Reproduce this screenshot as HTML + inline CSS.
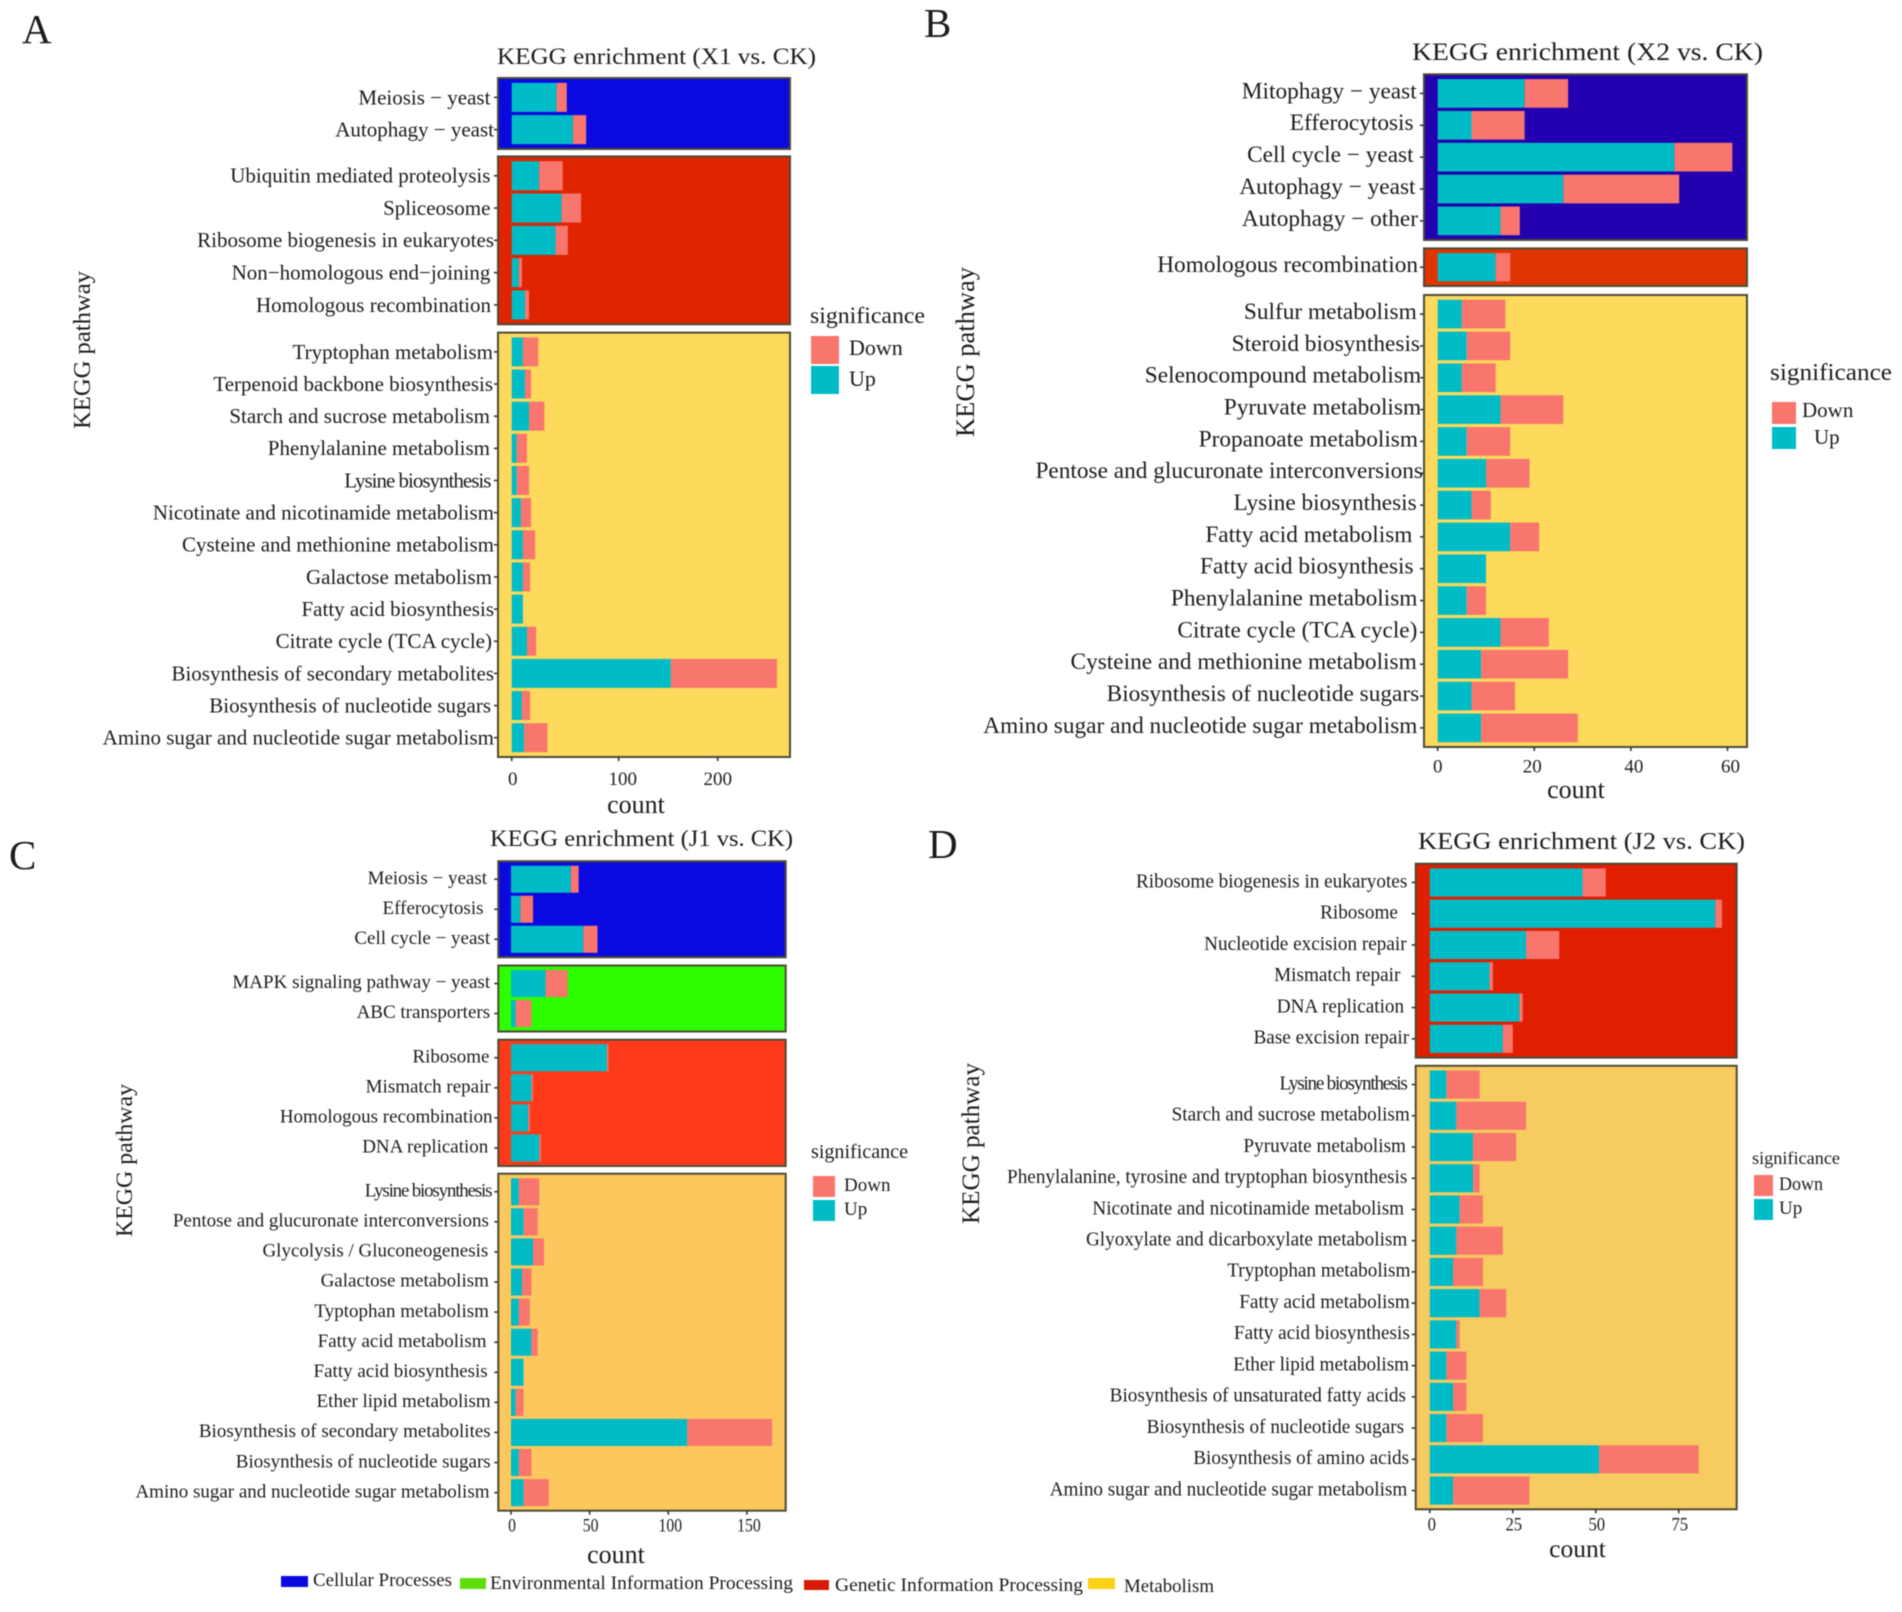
<!DOCTYPE html>
<html lang="en">
<head>
<meta charset="utf-8">
<title>KEGG enrichment panels</title>
<style>
html,body{margin:0;padding:0;background:#fff;}
svg{display:block;filter:blur(0.45px);}
text{font-family:"Liberation Serif",serif;fill:#1c1c1c;}
</style>
</head>
<body>
<svg id="figure" xmlns="http://www.w3.org/2000/svg" width="1902" height="1612" viewBox="0 0 1902 1612">
  <rect x="0" y="0" width="1902" height="1612" fill="#ffffff"/>

  <text x="22" y="43" font-size="41">A</text>
  <text x="924" y="37" font-size="41">B</text>
  <text x="9" y="869" font-size="41">C</text>
  <text x="928" y="858" font-size="41">D</text>

  <text x="497" y="64" font-size="23.5" textLength="319" lengthAdjust="spacingAndGlyphs">KEGG enrichment (X1 vs. CK)</text>
  <text x="1412" y="60" font-size="25" textLength="351" lengthAdjust="spacingAndGlyphs">KEGG enrichment (X2 vs. CK)</text>
  <text x="490" y="846" font-size="23" textLength="303" lengthAdjust="spacingAndGlyphs">KEGG enrichment (J1 vs. CK)</text>
  <text x="1418" y="849" font-size="24" textLength="327" lengthAdjust="spacingAndGlyphs">KEGG enrichment (J2 vs. CK)</text>

  <text transform="translate(90,429) rotate(-90)" font-size="24" textLength="158" lengthAdjust="spacingAndGlyphs">KEGG pathway</text>
  <text transform="translate(974,437) rotate(-90)" font-size="26" textLength="170" lengthAdjust="spacingAndGlyphs">KEGG pathway</text>
  <text transform="translate(132,1237) rotate(-90)" font-size="23" textLength="153" lengthAdjust="spacingAndGlyphs">KEGG pathway</text>
  <text transform="translate(979,1224) rotate(-90)" font-size="25" textLength="161" lengthAdjust="spacingAndGlyphs">KEGG pathway</text>

  <text x="636" y="813" font-size="26" text-anchor="middle">count</text>
  <text x="1576" y="798" font-size="26" text-anchor="middle">count</text>
  <text x="616" y="1563" font-size="26" text-anchor="middle">count</text>
  <text x="1577.5" y="1557" font-size="25.5" text-anchor="middle">count</text>

  <g>
    <text x="810" y="323" font-size="23" textLength="115" lengthAdjust="spacingAndGlyphs">significance</text>
    <rect x="811" y="336" width="28" height="28" fill="#f8766d"/>
    <rect x="811" y="366" width="28" height="28" fill="#00bcc6"/>
    <text x="849" y="355" font-size="22">Down</text>
    <text x="849" y="386" font-size="22">Up</text>
  </g>
  <g>
    <text x="1770" y="380" font-size="24" textLength="122" lengthAdjust="spacingAndGlyphs">significance</text>
    <rect x="1772" y="402" width="24" height="22" fill="#f8766d"/>
    <rect x="1772" y="427" width="24" height="22" fill="#00bcc6"/>
    <text x="1802" y="417" font-size="21">Down</text>
    <text x="1814" y="444" font-size="21">Up</text>
  </g>
  <g>
    <text x="811" y="1158" font-size="20" textLength="97" lengthAdjust="spacingAndGlyphs">significance</text>
    <rect x="813" y="1176" width="22" height="21" fill="#f8766d"/>
    <rect x="813" y="1200" width="22" height="21" fill="#00bcc6"/>
    <text x="844" y="1191" font-size="19">Down</text>
    <text x="844" y="1215" font-size="19">Up</text>
  </g>
  <g>
    <text x="1752" y="1164" font-size="18" textLength="88" lengthAdjust="spacingAndGlyphs">significance</text>
    <rect x="1754" y="1175" width="19" height="21" fill="#f8766d"/>
    <rect x="1754" y="1199" width="19" height="21" fill="#00bcc6"/>
    <text x="1779" y="1190" font-size="19" textLength="44" lengthAdjust="spacingAndGlyphs">Down</text>
    <text x="1779" y="1214" font-size="19">Up</text>
  </g>

  <g>
    <rect x="281" y="1576" width="27" height="11" fill="#0a0ae0"/>
    <text x="313" y="1586" font-size="19" textLength="139" lengthAdjust="spacingAndGlyphs">Cellular Processes</text>
    <rect x="460" y="1578" width="26" height="11" fill="#5fdc0a"/>
    <text x="490" y="1589" font-size="19" textLength="303" lengthAdjust="spacingAndGlyphs">Environmental Information Processing</text>
    <rect x="804" y="1580" width="25" height="10" fill="#d81a06"/>
    <text x="835" y="1591" font-size="19" textLength="248" lengthAdjust="spacingAndGlyphs">Genetic Information Processing</text>
    <rect x="1088" y="1578" width="27" height="11" fill="#fcd116"/>
    <text x="1124" y="1592" font-size="19" textLength="90" lengthAdjust="spacingAndGlyphs">Metabolism</text>
  </g>

  <g id="panels"></g>
</svg>

<script>
/* ---------- Panel A data ---------- */
const panelACategories = ["Meiosis − yeast","Autophagy − yeast","Ubiquitin mediated proteolysis","Spliceosome","Ribosome biogenesis in eukaryotes","Non−homologous end−joining","Homologous recombination","Tryptophan metabolism","Terpenoid backbone biosynthesis","Starch and sucrose metabolism","Phenylalanine metabolism","Lysine biosynthesis","Nicotinate and nicotinamide metabolism","Cysteine and methionine metabolism","Galactose metabolism","Fatty acid biosynthesis","Citrate cycle (TCA cycle)","Biosynthesis of secondary metabolites","Biosynthesis of nucleotide sugars","Amino sugar and nucleotide sugar metabolism"];
const panelAUp = [44,60,27,49,43,7,13,11,13,17,5,5,9,11,11,11,15,156,10,12];
const panelADown = [10,13,23,19,12,3,4,15,6,15,10,12,10,12,7,0,9,104,8,23];
const panelAGroups = ["Cellular Processes","Genetic Information Processing","Metabolism"];
const panelAGroupSizes = [2,5,13];
const panelATicks = [0,100,200];

/* ---------- Panel B data ---------- */
const panelBCategories = ["Mitophagy − yeast","Efferocytosis","Cell cycle − yeast","Autophagy − yeast","Autophagy − other","Homologous recombination","Sulfur metabolism","Steroid biosynthesis","Selenocompound metabolism","Pyruvate metabolism","Propanoate metabolism","Pentose and glucuronate interconversions","Lysine biosynthesis","Fatty acid metabolism","Fatty acid biosynthesis","Phenylalanine metabolism","Citrate cycle (TCA cycle)","Cysteine and methionine metabolism","Biosynthesis of nucleotide sugars","Amino sugar and nucleotide sugar metabolism"];
const panelBUp = [18,7,49,26,13,12,5,6,5,13,6,10,7,15,10,6,13,9,7,9];
const panelBDown = [9,11,12,24,4,3,9,9,7,13,9,9,4,6,0,4,10,18,9,20];
const panelBGroups = ["Cellular Processes","Genetic Information Processing","Metabolism"];
const panelBGroupSizes = [5,1,14];
const panelBTicks = [0,20,40,60];

/* ---------- Panel C data ---------- */
const panelCCategories = ["Meiosis − yeast","Efferocytosis","Cell cycle − yeast","MAPK signaling pathway − yeast","ABC transporters","Ribosome","Mismatch repair","Homologous recombination","DNA replication","Lysine biosynthesis","Pentose and glucuronate interconversions","Glycolysis / Gluconeogenesis","Galactose metabolism","Typtophan metabolism","Fatty acid metabolism","Fatty acid biosynthesis","Ether lipid metabolism","Biosynthesis of secondary metabolites","Biosynthesis of nucleotide sugars","Amino sugar and nucleotide sugar metabolism"];
const panelCUp = [38,6,46,22,3,61,13,11,18,5,8,14,7,5,13,8,3,112,5,8];
const panelCDown = [5,8,9,14,10,1,1,1,1,13,9,7,6,7,4,0,5,54,8,16];
const panelCGroups = ["Cellular Processes","Environmental Information Processing","Genetic Information Processing","Metabolism"];
const panelCGroupSizes = [3,2,4,11];
const panelCTicks = [0,50,100,150];

/* ---------- Panel D data ---------- */
const panelDCategories = ["Ribosome biogenesis in eukaryotes","Ribosome","Nucleotide excision repair","Mismatch repair","DNA replication","Base excision repair","Lysine biosynthesis","Starch and sucrose metabolism","Pyruvate metabolism","Phenylalanine, tyrosine and tryptophan biosynthesis","Nicotinate and nicotinamide metabolism","Glyoxylate and dicarboxylate metabolism","Tryptophan metabolism","Fatty acid metabolism","Fatty acid biosynthesis","Ether lipid metabolism","Biosynthesis of unsaturated fatty acids","Biosynthesis of nucleotide sugars","Biosynthesis of amino acids","Amino sugar and nucleotide sugar metabolism"];
const panelDUp = [46,86,29,18,27,22,5,8,13,13,9,8,7,15,8,5,7,5,51,7];
const panelDDown = [7,2,10,1,1,3,10,21,13,2,7,14,9,8,1,6,4,11,30,23];
const panelDGroups = ["Genetic Information Processing","Metabolism"];
const panelDGroupSizes = [6,14];
const panelDTicks = [0,25,50,75];

/* ---------- Layout (not data) ---------- */
const SVG_NS = "http://www.w3.org/2000/svg";
const UP_COLOR = "#00bcc6";
const DOWN_COLOR = "#f8766d";

const panelConfigs = [
  {
    id: "a", categories: panelACategories, up: panelAUp, down: panelADown,
    groups: panelAGroups, groupSizes: panelAGroupSizes, ticks: panelATicks,
    left: 498, right: 790, zero: 511.7, perCount: 1.02,
    facetBounds: [[78,149],[156.4,324.3],[332.6,757]],
    facetColors: ["#0a0ae0","#e02400","#fdd95c"],
    labelRight: 494, labelSize: 21, labelScaleX: 1, labelDy: 0.8, lysineSpacing: -1,
    labelInsets: [3.6,0,3.6,3.6,0,3.6,3,1,1,4,4,3.6,0,0,2,0,2,0,3,0],
    tickNudges: [0,5,2], tickLabelNudges: [1,4,0], tickLabelSize: 19, tickLabelY: 785
  },
  {
    id: "b", categories: panelBCategories, up: panelBUp, down: panelBDown,
    groups: panelBGroups, groupSizes: panelBGroupSizes, ticks: panelBTicks,
    left: 1424, right: 1747, zero: 1437.7, perCount: 4.83,
    facetBounds: [[74.3,240],[248.4,286],[295,747]],
    facetColors: ["#2300b0","#e03500","#fdd95c"],
    labelRight: 1423, labelSize: 23.3, labelScaleX: 1, labelDy: -1.8, lysineSpacing: 0,
    labelInsets: [6.3,9.4,9.4,7.5,5,5,6.3,3,1.9,1.9,5,0,6.3,10.6,9.4,5.6,5.6,6.3,3.8,5.6],
    tickNudges: [0,0,0,0], tickLabelNudges: [0,-2,3,3], tickLabelSize: 19, tickLabelY: 772.5
  },
  {
    id: "c", categories: panelCCategories, up: panelCUp, down: panelCDown,
    groups: panelCGroups, groupSizes: panelCGroupSizes, ticks: panelCTicks,
    left: 498.3, right: 785.7, zero: 511, perCount: 1.573,
    facetBounds: [[861.2,957.3],[965.5,1031.5],[1039.7,1166],[1173.7,1510.7]],
    facetColors: ["#0a0ae0","#2dff00","#ff3a1a","#fcc85e"],
    labelRight: 492.5, labelSize: 19, labelScaleX: 1, labelDy: -0.8, lysineSpacing: -1.2,
    labelInsets: [5.5,9,2.4,2.4,2.4,3,1.8,0,4.2,1.2,3.6,4.2,3.6,3.6,6,4.8,1.8,1.8,1.8,3],
    tickNudges: [0,0,0,0], tickLabelNudges: [1,1,2,2], tickLabelSize: 18.5, tickLabelY: 1531.5, tickLabelScaleX: 0.85
  },
  {
    id: "d", categories: panelDCategories, up: panelDUp, down: panelDDown,
    groups: panelDGroups, groupSizes: panelDGroupSizes, ticks: panelDTicks,
    left: 1415.7, right: 1736.7, zero: 1429.8, perCount: 3.32,
    facetBounds: [[863.7,1057.6],[1065.8,1509.3]],
    facetColors: ["#e01e00","#f6cb60"],
    labelRight: 1410.4, labelSize: 20, labelScaleX: 0.96, labelDy: -1, lysineSpacing: -1.3,
    labelInsets: [3.1,12.5,3.8,10,6.3,1.3,3.8,0.6,4.4,3.1,6.3,3.1,0,0.6,0.6,1.3,4.4,6.3,1.3,3.1],
    tickNudges: [0,0,0,0], tickLabelNudges: [2,1,1,1], tickLabelSize: 19, tickLabelY: 1530.5, tickLabelScaleX: 0.88
  }
];

function svgEl(tag, attrs) {
  const el = document.createElementNS(SVG_NS, tag);
  for (const key in attrs) el.setAttribute(key, attrs[key]);
  return el;
}
function slug(s) {
  return s.toLowerCase().replace(/[^a-z0-9]+/g, "-").replace(/^-|-$/g, "");
}

function drawPanel(cfg) {
  const root = document.getElementById("panels");
  const group = svgEl("g", {});
  
  
  root.appendChild(group);

  const xScale = function (v) { return cfg.zero + v * cfg.perCount; };
  const width = cfg.right - cfg.left;
  const panelBottom = cfg.facetBounds[cfg.facetBounds.length - 1][1];
  let rowIndex = 0;

  cfg.groups.forEach(function (groupName, g) {
    const n = cfg.groupSizes[g];
    const top = cfg.facetBounds[g][0];
    const bottom = cfg.facetBounds[g][1];
    const unit = (bottom - top) / (n + 0.2);
    const yScale = function (i) { return top + (i + 0.6) * unit; };

    const bg = svgEl("rect", { x: cfg.left, y: top, width: width, height: bottom - top, fill: cfg.facetColors[g] });
    
    
    group.appendChild(bg);

    for (let i = 0; i < n; i++) {
      const idx = rowIndex + i;
      const cy = yScale(i);
      const barH = unit * 0.9;
      const name = slug(cfg.categories[idx]);

      const upBar = svgEl("rect", { x: xScale(0), y: cy - barH / 2, width: Math.max(0, xScale(cfg.up[idx]) - xScale(0)), height: barH, fill: UP_COLOR });
      
      
      group.appendChild(upBar);

      const downBar = svgEl("rect", { x: xScale(cfg.up[idx]), y: cy - barH / 2, width: Math.max(0, xScale(cfg.up[idx] + cfg.down[idx]) - xScale(cfg.up[idx])), height: barH, fill: DOWN_COLOR });
      
      
      group.appendChild(downBar);

      const tick = svgEl("line", { x1: cfg.left - 4, x2: cfg.left, y1: cy, y2: cy, stroke: "#333", "stroke-width": 1.6 });
      
      
      group.appendChild(tick);

      const labelX = cfg.labelRight - cfg.labelInsets[idx];
      const label = svgEl("text", {
        transform: "translate(" + labelX + "," + (cy + cfg.labelSize * 0.29 + cfg.labelDy) + ") scale(" + cfg.labelScaleX + ",1)",
        "font-size": cfg.labelSize, "text-anchor": "end"
      });
      if (cfg.lysineSpacing && cfg.categories[idx] === "Lysine biosynthesis") label.setAttribute("letter-spacing", cfg.lysineSpacing);
      label.textContent = cfg.categories[idx];
      
      
      group.appendChild(label);
    }

    const frame = svgEl("rect", { x: cfg.left, y: top, width: width, height: bottom - top, fill: "none", stroke: "#4e4a36", "stroke-width": 2 });
    
    
    group.appendChild(frame);

    rowIndex += n;
  });

  cfg.ticks.forEach(function (t, i) {
    const tx = xScale(t) + cfg.tickNudges[i];
    const tick = svgEl("line", { x1: tx, x2: tx, y1: panelBottom, y2: panelBottom + 4, stroke: "#333", "stroke-width": 1.6 });
    
    
    group.appendChild(tick);

    const sx = cfg.tickLabelScaleX || 1;
    const label = svgEl("text", {
      transform: "translate(" + (tx + cfg.tickLabelNudges[i]) + "," + cfg.tickLabelY + ") scale(" + sx + ",1)",
      "font-size": cfg.tickLabelSize, "text-anchor": "middle"
    });
    label.textContent = String(t);
    
    
    group.appendChild(label);
  });
}

panelConfigs.forEach(drawPanel);
</script>
</body>
</html>
